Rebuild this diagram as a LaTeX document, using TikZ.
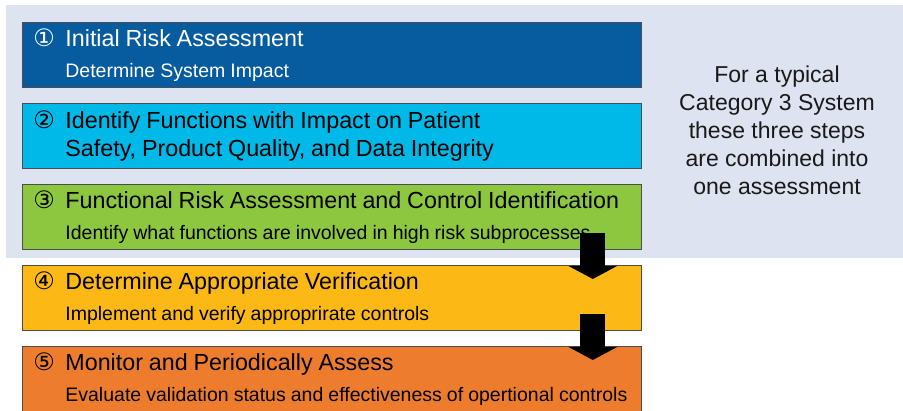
\documentclass[tikz,border=0pt]{standalone}
\usepackage{fontspec}
\setmainfont{Liberation Sans}
\newfontfamily\circfont{DejaVu Sans}
\usepackage{tikz}
\usetikzlibrary{arrows.meta}

\definecolor{panelgrey}{RGB}{221,227,240}
\definecolor{stageline}{RGB}{77,77,77}
\definecolor{stepblue}{RGB}{6,92,158}
\definecolor{stepcyan}{RGB}{0,185,232}
\definecolor{stepgreen}{RGB}{141,198,63}
\definecolor{stepamber}{RGB}{252,184,21}
\definecolor{steporange}{RGB}{237,125,45}
\definecolor{notetext}{RGB}{25,25,25}

\newcommand{\steptitle}{\fontsize{23.3}{28}\selectfont\spaceskip=0.25em\relax}
\newcommand{\stepsub}{\fontsize{19.5}{31}\selectfont\spaceskip=0.26em\relax}
\newcommand{\stepnum}[1]{\makebox[32pt][l]{\circfont\fontsize{24}{24}\selectfont #1}}

\begin{document}
\begin{tikzpicture}[x=1pt,y=1pt,node distance=81pt]
\tikzstyle{stage} = [rectangle, minimum width=619pt, minimum height=65pt, text width=597pt, inner xsep=11pt, inner ysep=0pt, align=left, draw=stageline, line width=0.8pt]
\tikzstyle{blockarrow} = [line width=25pt, -{Triangle[length=13pt,width=48pt]}]
\tikzstyle{note} = [align=center, text=notetext, font=\fontsize{23}{28}\selectfont]

\useasboundingbox (0,0) rectangle (903,-411);
% shaded group of the first three steps
\fill[panelgrey] (6,-5) rectangle (903,-258);

\node (s1) [stage, fill=stepblue, text=white, anchor=north west] at (22,-22) {{\steptitle\stepnum{①}Initial Risk Assessment\par}{\stepsub\hspace*{32pt}Determine System Impact\par}};
\node (s2) [stage, fill=stepcyan, below of=s1] {{\steptitle\stepnum{②}Identify Functions with Impact on Patient\par\hspace*{32pt}Safety, Product Quality, and Data Integrity\par}};
\node (s3) [stage, fill=stepgreen, below of=s2] {{\steptitle\stepnum{③}Functional Risk Assessment and Control Identification\par}{\stepsub\hspace*{32pt}Identify what functions are involved in high risk subprocesses\par}};
\node (s4) [stage, fill=stepamber, below of=s3] {{\steptitle\stepnum{④}Determine Appropriate Verification\par}{\stepsub\hspace*{32pt}Implement and verify approprirate controls\par}};
\node (s5) [stage, fill=steporange, below of=s4] {{\steptitle\stepnum{⑤}Monitor and Periodically Assess\par}{\stepsub\hspace*{32pt}Evaluate validation status and effectiveness of opertional controls\par}};

\node (cat3) [note] at (777,-130) {For a typical\\Category 3 System\\these three steps\\are combined into\\one assessment};

\draw [blockarrow] ([xshift=-49pt,yshift=17pt]s3.south east) -- ([xshift=-49pt,yshift=-14pt]s4.north east);
\draw [blockarrow] ([xshift=-49pt,yshift=17pt]s4.south east) -- ([xshift=-49pt,yshift=-14pt]s5.north east);
\end{tikzpicture}
\end{document}
